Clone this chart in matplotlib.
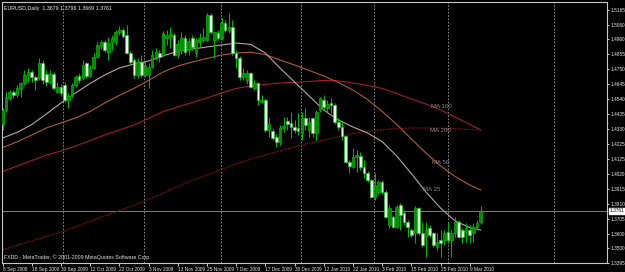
import numpy as np
import matplotlib
matplotlib.use("Agg")
import matplotlib.pyplot as plt
from matplotlib.transforms import blended_transform_factory

# ---------------- data ----------------
opens = [1.4368,1.4466,1.4550,1.4592,1.4571,1.4613,1.4655,1.4711,1.4732,1.4697,
         1.4690,1.4795,1.4718,1.4662,1.4718,1.4592,1.4627,1.4641,1.4536,1.4571,
         1.4641,1.4704,1.4690,1.4795,1.4711,1.4760,1.4837,1.4914,1.4942,1.4872,
         1.4935,1.4942,1.5012,1.5026,1.4991,1.4865,1.4816,1.4711,1.4802,1.4711,
         1.4711,1.4767,1.4837,1.4865,1.4851,1.4970,1.4977,1.4991,1.4851,1.4886,
         1.4970,1.4886,1.4970,1.4865,1.4942,1.4956,1.4956,1.5131,1.4956,1.5005,
         1.4970,1.5075,1.5026,1.5047,1.4865,1.4830,1.4697,1.4676,1.4725,1.4620,
         1.4655,1.4522,1.4536,1.4326,1.4319,1.4277,1.4242,1.4340,1.4389,1.4375,
         1.4347,1.4340,1.4305,1.4410,1.4326,1.4410,1.4305,1.4466,1.4536,1.4480,
         1.4515,1.4501,1.4382,1.4347,1.4284,1.4102,1.4067,1.4137,1.4144,1.4067,
         1.4025,1.3976,1.3857,1.3892,1.3962,1.3892,1.3661,1.3717,1.3647,1.3801,
         1.3745,1.3682,1.3626,1.3605,1.3780,1.3605,1.3577,1.3640,1.3605,1.3507,
         1.3556,1.3556,1.3612,1.3556,1.3605,1.3682,1.3626,1.3612,1.3626,1.3605,
         1.3647,1.3679]
highs = [1.4480,1.4592,1.4606,1.4606,1.4641,1.4662,1.4746,1.4760,1.4746,1.4711,
         1.4830,1.4816,1.4746,1.4746,1.4732,1.4662,1.4648,1.4662,1.4585,1.4655,
         1.4711,1.4725,1.4816,1.4802,1.4781,1.4865,1.4942,1.4956,1.4956,1.4977,
         1.4991,1.5026,1.5054,1.5040,1.5061,1.4879,1.4830,1.4830,1.4851,1.4802,
         1.4795,1.4886,1.4900,1.4886,1.5019,1.5026,1.5047,1.5005,1.4956,1.5012,
         1.4991,1.4970,1.4991,1.4970,1.5005,1.5040,1.5145,1.5145,1.5019,1.5026,
         1.5110,1.5096,1.5145,1.5096,1.4886,1.4844,1.4760,1.4746,1.4732,1.4676,
         1.4662,1.4571,1.4550,1.4410,1.4340,1.4298,1.4361,1.4417,1.4417,1.4452,
         1.4396,1.4445,1.4452,1.4480,1.4417,1.4417,1.4466,1.4557,1.4571,1.4536,
         1.4550,1.4515,1.4410,1.4382,1.4291,1.4116,1.4200,1.4186,1.4172,1.4116,
         1.4039,1.3983,1.4025,1.3976,1.3976,1.3906,1.3801,1.3731,1.3801,1.3815,
         1.3766,1.3696,1.3640,1.3794,1.3787,1.3682,1.3682,1.3661,1.3612,1.3605,
         1.3626,1.3626,1.3682,1.3626,1.3717,1.3696,1.3640,1.3675,1.3661,1.3675,
         1.3696,1.3796]
lows = [1.4326,1.4452,1.4536,1.4550,1.4557,1.4557,1.4641,1.4662,1.4662,1.4606,
        1.4676,1.4648,1.4634,1.4648,1.4606,1.4585,1.4564,1.4522,1.4480,1.4557,
        1.4627,1.4655,1.4676,1.4690,1.4697,1.4753,1.4830,1.4893,1.4872,1.4816,
        1.4886,1.4921,1.4991,1.4970,1.4858,1.4788,1.4690,1.4690,1.4697,1.4697,
        1.4620,1.4760,1.4816,1.4802,1.4844,1.4921,1.4900,1.4844,1.4830,1.4858,
        1.4851,1.4851,1.4886,1.4837,1.4907,1.4942,1.4949,1.4998,1.4830,1.4956,
        1.4956,1.5012,1.5005,1.4851,1.4760,1.4676,1.4676,1.4648,1.4620,1.4606,
        1.4501,1.4515,1.4312,1.4277,1.4256,1.4207,1.4221,1.4312,1.4326,1.4270,
        1.4305,1.4291,1.4256,1.4326,1.4277,1.4277,1.4256,1.4452,1.4466,1.4452,
        1.4445,1.4368,1.4326,1.4256,1.4095,1.4025,1.4060,1.4032,1.4046,1.3990,
        1.3962,1.3850,1.3836,1.3878,1.3878,1.3710,1.3640,1.3640,1.3640,1.3626,
        1.3661,1.3577,1.3577,1.3535,1.3591,1.3507,1.3437,1.3577,1.3507,1.3486,
        1.3437,1.3521,1.3535,1.3437,1.3577,1.3570,1.3535,1.3542,1.3535,1.3542,
        1.3640,1.3669]
closes = [1.4466,1.4557,1.4592,1.4571,1.4620,1.4655,1.4711,1.4732,1.4697,1.4676,
          1.4795,1.4676,1.4662,1.4718,1.4620,1.4627,1.4585,1.4536,1.4564,1.4641,
          1.4697,1.4676,1.4781,1.4704,1.4760,1.4837,1.4921,1.4942,1.4886,1.4935,
          1.4970,1.5012,1.5026,1.4984,1.4865,1.4802,1.4711,1.4802,1.4711,1.4774,
          1.4767,1.4851,1.4872,1.4837,1.5005,1.4991,1.4998,1.4851,1.4928,1.4970,
          1.4872,1.4949,1.4907,1.4956,1.4970,1.4977,1.5131,1.5012,1.5012,1.4970,
          1.5075,1.5026,1.5047,1.4865,1.4830,1.4697,1.4725,1.4725,1.4627,1.4655,
          1.4536,1.4536,1.4326,1.4368,1.4270,1.4242,1.4340,1.4354,1.4368,1.4347,
          1.4326,1.4319,1.4410,1.4361,1.4382,1.4305,1.4452,1.4550,1.4487,1.4508,
          1.4501,1.4382,1.4347,1.4284,1.4102,1.4074,1.4137,1.4151,1.4067,1.4025,
          1.3976,1.3857,1.3941,1.3962,1.3892,1.3717,1.3780,1.3647,1.3787,1.3731,
          1.3682,1.3647,1.3591,1.3780,1.3605,1.3521,1.3626,1.3591,1.3521,1.3542,
          1.3535,1.3605,1.3556,1.3605,1.3682,1.3577,1.3577,1.3640,1.3591,1.3647,
          1.3675,1.3761]

# moving averages sampled every 4 bars (+ last bar)
ma_bars = list(range(0, 129, 4)) + [131]
ma25 = [1.4270,1.4309,1.4364,1.4438,1.4515,1.4585,1.4652,1.4711,1.4760,1.4788,
        1.4809,1.4844,1.4879,1.4893,1.4907,1.4921,1.4935,1.4925,1.4865,1.4760,
        1.4662,1.4564,1.4466,1.4396,1.4347,1.4305,1.4245,1.4144,1.4021,1.3892,
        1.3780,1.3689,1.3643,1.3626]
ma50 = [1.4203,1.4243,1.4291,1.4340,1.4375,1.4410,1.4456,1.4515,1.4568,1.4617,
        1.4673,1.4732,1.4774,1.4802,1.4827,1.4851,1.4865,1.4870,1.4854,1.4816,
        1.4781,1.4743,1.4704,1.4659,1.4606,1.4539,1.4456,1.4365,1.4263,1.4165,
        1.4074,1.4001,1.3941,1.3906]
ma100 = [1.4036,1.4074,1.4112,1.4151,1.4179,1.4214,1.4252,1.4291,1.4326,1.4361,
         1.4407,1.4456,1.4487,1.4519,1.4550,1.4585,1.4617,1.4634,1.4645,1.4655,
         1.4660,1.4666,1.4673,1.4670,1.4655,1.4638,1.4617,1.4581,1.4543,1.4508,
         1.4466,1.4417,1.4365,1.4326]
ma200 = [1.3488,1.3519,1.3550,1.3581,1.3611,1.3649,1.3687,1.3725,1.3761,1.3799,
         1.3840,1.3883,1.3931,1.3973,1.4011,1.4051,1.4089,1.4122,1.4151,1.4180,
         1.4208,1.4234,1.4256,1.4278,1.4301,1.4317,1.4327,1.4337,1.4340,1.4340,
         1.4340,1.4335,1.4329,1.4326]

price_ticks = [1.3395,1.3500,1.3600,1.3705,1.3810,1.3915,1.4020,1.4125,1.4225,
               1.4330,1.4435,1.4540,1.4645,1.4750,1.4855,1.4960,1.5060,1.5165]
date_labels = ["8 Sep 2009","18 Sep 2009","30 Sep 2009","12 Oct 2009","22 Oct 2009",
               "3 Nov 2009","13 Nov 2009","25 Nov 2009","7 Dec 2009","17 Dec 2009",
               "30 Dec 2009","12 Jan 2010","22 Jan 2010","3 Feb 2010","15 Feb 2010",
               "25 Feb 2010","9 Mar 2010"]
date_bars = list(range(0, 129, 8))
grid_bars = [16.6, 38.8, 59.9, 81.8, 101.8, 122.1, 151.1]
current_price = 1.3761

# ---------------- figure ----------------
W, H = 625, 272
fig = plt.figure(figsize=(W/100, H/100), dpi=100, facecolor="black")
ax = fig.add_axes([2/W, 9/H, 605/W, 261/H])
ax.set_facecolor("black")
FONT = "Liberation Sans"
FS = 3.4

o = np.array(opens); h = np.array(highs); l = np.array(lows); c = np.array(closes)
x = np.arange(len(c))
bull = c >= o

ax.vlines(x, l, h, color="#00b400", lw=0.8, zorder=3)
ax.bar(x[bull], (c - o)[bull], bottom=o[bull], width=0.72,
       color="#008a00", edgecolor="#00b800", lw=0.5, zorder=4)
ax.bar(x[~bull], (o - c)[~bull], bottom=c[~bull], width=0.72,
       color="#e4ffe4", edgecolor="#30c030", lw=0.5, zorder=4)

ax.plot(ma_bars, ma200, color="#8a1020", lw=0.8, ls=(0, (1.5, 1)), zorder=2)
ax.plot(ma_bars, ma100, color="#a01c30", lw=0.8, zorder=2)
ax.plot(ma_bars, ma50, color="#b0583a", lw=0.8, zorder=2)
ax.plot(ma_bars, ma25, color="#b8a4a0", lw=0.8, zorder=2)

for gb in grid_bars:
    ax.axvline(gb, color="#a0a0a0", lw=0.6, ls=(0, (2, 2)), zorder=1)
ax.axhline(current_price, color="#8c8c8c", lw=0.6, zorder=1)

for txt, xb, yp in [("MA 100", 117.4, 1.4494), ("MA 200", 117.1, 1.4319),
                    ("MA 50", 117.7, 1.4095), ("MA 25", 115.2, 1.3906)]:
    ax.text(xb, yp, txt, color="#8a8a8a", fontsize=4.4, family=FONT,
            ha="left", va="center", zorder=5)

ax.set_xlim(-0.14, 165.6)
ax.set_ylim(1.3395, 1.5222)

for s in ax.spines.values():
    s.set_color("#c8c8c8"); s.set_linewidth(0.8)

ax.yaxis.tick_right()
ax.set_yticks(price_ticks)
ax.set_yticklabels([f"{p:.4f}" for p in price_ticks])
ax.tick_params(axis="y", colors="#e8e8e8", labelsize=FS, length=1.5, width=0.6, pad=0.8)
ax.set_xticks(date_bars)
ax.set_xticklabels(date_labels, ha="left")
ax.tick_params(axis="x", colors="#e8e8e8", labelsize=FS, length=2, width=0.6, pad=1.0)
for t in ax.get_xticklabels() + ax.get_yticklabels():
    t.set_family(FONT)

tr = blended_transform_factory(ax.transAxes, ax.transData)
ax.text(1.004, current_price, f"{current_price:.4f}", transform=tr, color="black",
        fontsize=FS, family=FONT, ha="left", va="center",
        bbox=dict(boxstyle="square,pad=0.12", fc="white", ec="white"), zorder=6, clip_on=False)

ax.text(0.004, 0.985, "EURUSD,Daily  1.3679 1.3796 1.3669 1.3761", transform=ax.transAxes,
        color="#f0f0f0", fontsize=3.8, family=FONT, ha="left", va="top")
ax.text(0.003, 0.012, "FXDD - MetaTrader, \u00a9 2001-2009 MetaQuotes Software Corp.",
        transform=ax.transAxes, color="#e0e0e0", fontsize=3.8, family=FONT,
        ha="left", va="bottom")

fig.savefig("out.png", dpi=100, facecolor="black")
